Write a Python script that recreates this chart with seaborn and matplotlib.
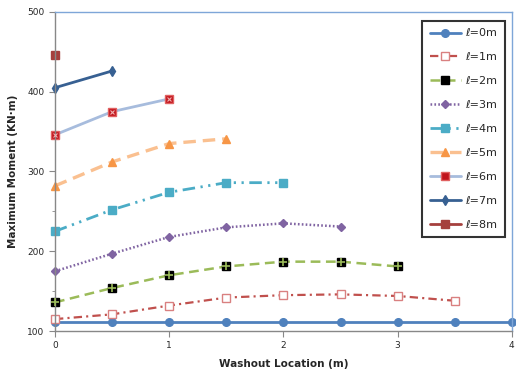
import numpy as np
import pandas as pd
import matplotlib
matplotlib.use("Agg")
import matplotlib.pyplot as plt
import seaborn as sns
from matplotlib.lines import Line2D

sns.set_style("white")
plt.rcParams['font.family'] = ['DejaVu Sans']
plt.rcParams['lines.scale_dashes'] = False

x_all = [0, 0.5, 1, 1.5, 2, 2.5, 3, 3.5, 4]
labels = ["\u2113=0m", "\u2113=1m", "\u2113=2m", "\u2113=3m", "\u2113=4m",
          "\u2113=5m", "\u2113=6m", "\u2113=7m", "\u2113=8m"]
l0 = [111, 111, 111, 111, 111, 111, 111, 111, 111]
l1 = [115, 121, 132, 142, 145, 146, 144, 138]
l2 = [136, 154, 170, 181, 187, 187, 181]
l3 = [175, 197, 218, 230, 235, 231]
l4 = [225, 252, 274, 286, 286]
l5 = [282, 312, 335, 341]
l6 = [346, 375, 391]
l7 = [405, 426]
l8 = [446]
series = [l0, l1, l2, l3, l4, l5, l6, l7, l8]

styles = [
    dict(color="#4F81BD", ls="-", lw=2.0, marker="o", ms=5.5, mfc="#4F81BD", mec="#4F81BD"),
    dict(color="#C0504D", ls=(0, (6, 3, 1.5, 3)), lw=1.6, marker="s", ms=5.5, mfc="white", mec="#D98080"),
    dict(color="#9BBB59", ls=(0, (7, 4)), lw=1.8, marker="s", ms=6, mfc="black", mec="black"),
    dict(color="#8064A2", ls=(0, (1.2, 1.6)), lw=1.8, marker="D", ms=4.5, mfc="#8064A2", mec="#8064A2"),
    dict(color="#4BACC6", ls=(0, (9, 4, 1.6, 4, 1.6, 4)), lw=2.0, marker="s", ms=6, mfc="#4BACC6", mec="#4BACC6"),
    dict(color="#FAC090", ls=(0, (9, 5)), lw=2.4, marker="^", ms=6, mfc="#F79646", mec="#F79646"),
    dict(color="#A7BCDD", ls="-", lw=2.0, marker="s", ms=6, mfc="#C0141C", mec="#E06060"),
    dict(color="#376092", ls="-", lw=2.0, marker="d", ms=5.5, mfc="#376092", mec="#376092"),
    dict(color="#A5403D", ls="-", lw=2.0, marker="s", ms=6, mfc="#A5403D", mec="#A5403D"),
]

fig = plt.figure(figsize=(5.16, 3.72), dpi=100)
ax = fig.add_axes([0.1066, 0.110, 0.8854, 0.858])

handles = []
for vals, st, lab in zip(series, styles, labels):
    xs = x_all[:len(vals)]
    df = pd.DataFrame({"x": xs, "y": vals})
    sns.lineplot(data=df, x="x", y="y", ax=ax, color=st["color"], lw=st["lw"],
                 linestyle=st["ls"],
                 marker=st["marker"], markersize=st["ms"], markerfacecolor=st["mfc"],
                 markeredgecolor=st["mec"], markeredgewidth=1.0, legend=False)
    ln = ax.lines[-1]
    ln.set_linestyle(st["ls"])
    ln.set_clip_on(False)
    handles.append(Line2D([0], [0], color=st["color"], lw=st["lw"], ls=st["ls"],
                          marker=st["marker"], markersize=st["ms"],
                          markerfacecolor=st["mfc"], markeredgecolor=st["mec"]))
    if lab == "\u2113=2m":
        ax.plot(xs, vals, ls="none", marker="+", ms=6, mew=1.2, color="#9BBB59",
                zorder=5, clip_on=False)
    if lab == "\u2113=6m":
        ax.plot(xs, vals, ls="none", marker="x", ms=3.5, mew=0.8, color="#F0B0B0",
                zorder=5, clip_on=False)

ax.set_xlim(0, 4)
ax.set_ylim(100, 500)
ax.set_xticks([0, 1, 2, 3, 4])
ax.set_yticks([100, 200, 300, 400, 500])
ax.set_yticks([150, 250, 350, 450], minor=True)
ax.tick_params(axis="both", which="major", labelsize=6.5, length=4, direction="out",
               color="#888888", left=True, bottom=True)
ax.tick_params(axis="y", which="minor", length=2.5, direction="out", color="#888888", left=True)
ax.set_xlabel("Washout Location (m)", fontsize=7.5, fontweight="bold", labelpad=6)
ax.set_ylabel("Maximum Moment (KN\u00b7m)", fontsize=7.5, fontweight="bold", labelpad=7)

for s in ["left", "bottom"]:
    ax.spines[s].set_color("#888888")
    ax.spines[s].set_linewidth(1.0)
for s in ["top", "right"]:
    ax.spines[s].set_color("#7EA6D8")
    ax.spines[s].set_linewidth(1.0)

leg = ax.legend(handles, labels, loc="upper right", bbox_to_anchor=(0.997, 0.99),
                fontsize=8, frameon=True, fancybox=False, handlelength=2.8,
                labelspacing=1.25, borderpad=0.7, handletextpad=0.4)
leg.get_frame().set_edgecolor("black")
leg.get_frame().set_linewidth(1.5)
leg.set_zorder(10)

fig.savefig("out.png", dpi=100)
